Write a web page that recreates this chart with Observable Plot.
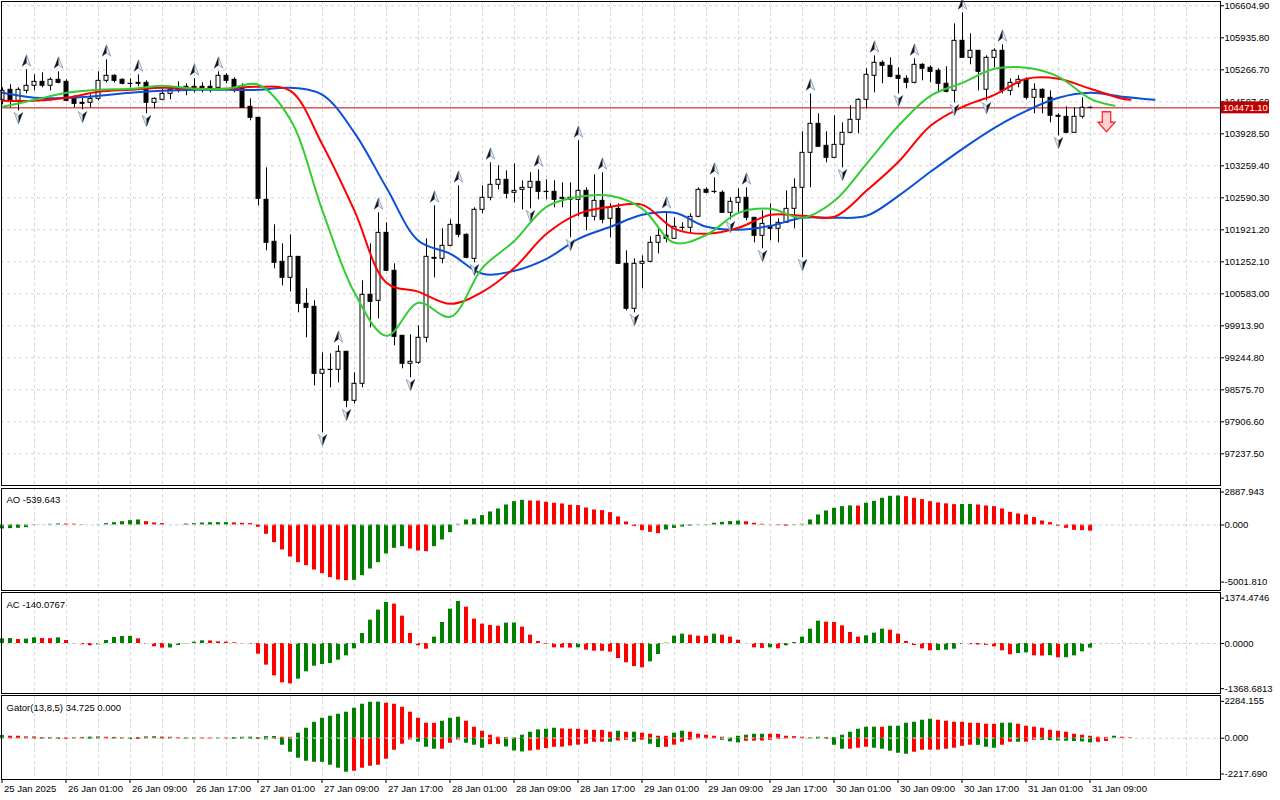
<!DOCTYPE html>
<html><head><meta charset="utf-8">
<script src="https://cdn.jsdelivr.net/npm/d3@7"></script>
<script src="https://cdn.jsdelivr.net/npm/@observablehq/plot@0.6"></script>
<style>
html,body{margin:0;padding:0;background:#fff;}
#chart{width:1280px;height:800px;overflow:hidden;background:#fff}
#chart svg{display:block}
</style></head><body><div id="chart"></div>
<script>
// ---------- DATA (hourly bars, 25 Jan 17:00 .. 31 Jan 09:00) ----------
const opens=[104639,104848,104618,104827,104932,105015,104932,105057,105015,104681,
104576,104576,104660,105036,105141,105057,104974,104994,104994,104576,
104639,104764,104848,104911,104911,104911,104911,104890,105141,105057,
104890,104493,104263,102548,101670,101252,100917,101356,100374,100311,
98910,98994,98994,99370,98345,98701,100562,100436,101858,101064,
99705,99119,99140,99663,101314,101314,101586,102025,101816,101314,
102339,102590,102862,102966,102695,102757,102799,102924,102715,102715,
102590,102548,102548,102736,102193,102527,102151,102360,101210,100269,
101210,101252,101649,101795,101733,101963,101963,102193,102757,102715,
102695,102276,102485,102590,102172,101795,101984,101942,102067,102360,
102799,103531,104137,103677,103426,103698,103949,104221,104639,105141,
105412,105350,105141,105078,104994,105371,105308,105245,104974,104827,
105873,105517,105664,104850,105517,105664,104827,104974,105057,104681,
104848,104681,104305,104284,103949,104284,104472];
const highs=[104890,104953,104890,105266,105162,105204,105099,105224,105057,104723,
104681,104744,105224,105475,105162,105078,105078,105162,105036,104681,
104869,104890,105015,104974,105078,104994,105036,105224,105183,105099,
104974,104660,104263,103217,102025,101628,101816,101360,100687,100436,
99349,99328,99495,99380,98931,100855,101628,102276,102067,101210,
99710,99726,99914,101733,102423,101942,102130,102841,101837,102381,
102841,103322,103259,103154,103301,102945,103113,103175,102966,102945,
102903,102903,103782,102799,103071,103113,102464,102464,101482,101314,
101377,101775,101963,102300,102172,102067,102255,102799,102799,103008,
102736,102590,102778,102799,102180,102318,102464,102151,102736,102987,
103970,104764,104346,103970,104305,104158,104514,104660,105287,105559,
105454,105517,105308,105141,105496,105392,105350,105287,105329,106228,
106458,106019,105670,105559,105706,105790,105078,105141,105099,104974,
104869,104827,104346,104493,104472,104681,104493];
const lows=[104534,104472,104409,104764,104827,104890,104827,104974,104600,104472,
104430,104472,104618,104994,104994,104953,104890,104911,104346,104451,
104618,104639,104785,104723,104785,104785,104785,104869,104974,104785,
104460,104200,102423,101482,101105,100750,100624,100185,99663,98659,
97676,98617,98722,98199,98282,98617,99872,100060,101050,99495,
99015,98826,99110,99558,100917,101210,101565,101754,101314,101231,
102255,102527,102757,102569,102485,102339,102360,102548,102548,102381,
102381,101754,102193,101900,102109,102046,101754,101200,100227,100185,
100687,101231,101419,101649,101720,101900,101858,102172,102674,102674,
102270,102130,102255,102109,101649,101524,101691,101649,102060,101942,
101335,102799,103650,103322,103420,103217,103928,103928,104451,104785,
104974,105099,104764,104869,104974,105036,104994,104785,104785,104576,
105510,105371,104827,104618,105308,104764,104723,104890,104639,104346,
104346,104158,103886,103928,103949,104242,104451];
const closes=[104827,104618,104848,104932,105015,104932,105057,104994,104618,104555,
104555,104660,105036,105141,105036,104974,104970,104974,104576,104660,
104764,104848,104869,104869,104869,104869,104869,105141,105036,104890,
104472,104263,102569,101649,101231,100917,101356,100374,100290,98910,
98994,98990,99370,98345,98701,100562,100415,101858,101064,99684,
99119,99161,99663,101356,101335,101586,102025,101816,101335,102339,
102590,102862,102966,102674,102736,102799,102924,102715,102710,102548,
102569,102590,102736,102193,102527,102130,102381,101210,100269,101210,
101252,101649,101795,101733,101984,101960,102193,102757,102695,102710,
102276,102506,102590,102172,101795,102046,101942,102067,102360,102799,
103531,104137,103656,103426,103698,103949,104221,104639,105162,105412,
105350,105120,105078,104994,105371,105287,105224,104974,104806,105873,
105517,105664,105224,105517,105664,104827,104994,105057,104681,104848,
104681,104305,104284,103949,104284,104472,104471.1];

// Alligator (bar index where read, value)
const jawIdx=[0,4,8,12,16,20,24,28,32,36,40,44,48,52,56,60,64,68,72,76,80,84,88,92,96,100,104,108,112,116,120,124,128,132,136,140,144];
const jawVals=[104785,104681,104681,104723,104785,104827,104848,104848,104848,104890,104744,103949,102799,101691,101419,101001,101064,101314,101733,101984,102234,102276,101984,101921,102004,102172,102172,102214,102632,103134,103614,104054,104409,104681,104785,104702,104639];
const teethIdx=[0,4,8,12,16,20,24,28,32,36,40,44,48,52,56,60,64,68,72,76,80,84,88,92,96,100,104,108,112,116,120,124,128,132,136,140,141];
const teethVals=[104618,104618,104681,104807,104848,104890,104869,104869,104911,104827,103698,102318,100813,100624,100374,100624,101126,101837,102255,102402,102443,101942,101837,101963,102234,102213,102193,102736,103343,104096,104493,104744,105078,105078,104869,104660,104639];
const lipsIdx=[0,4,8,12,16,20,24,28,32,36,40,44,48,52,56,60,64,68,72,76,80,84,88,92,96,100,104,108,112,116,120,124,128,132,136,139];
const lipsVals=[104493,104639,104785,104848,104869,104932,104869,104869,104953,104221,102318,100604,99705,100394,100102,101126,101691,102402,102611,102632,102360,101649,101816,102276,102360,102172,102527,103301,104096,104723,104994,105287,105308,105120,104660,104514];

// Fractals (bar indices)
const upFractals=[3,7,13,17,24,27,42,47,54,57,61,67,72,75,83,89,93,101,109,114,120,125];
const downFractals=[2,10,18,40,43,51,59,66,71,79,91,95,100,105,112,119,123,132];
// Sell signal arrow
const signalIdx=[138];
const signalPrice=[104180];

// Price axis
const priceTicks=[106604.90,105935.80,105266.70,104597.60,103928.50,103259.40,102590.30,101921.20,101252.10,100583.00,99913.90,99244.80,98575.70,97906.60,97237.50];

// Awesome Oscillator
const aoVals=[-350,-320,-290,-234,-30,-10,58,88,80,70,
30,0,20,117,204,292,380,438,292,175,
117,10,-10,80,110,170,200,205,210,180,
150,120,-200,-818,-1548,-2190,-2803,-3300,-3562,-3942,
-4263,-4614,-4818,-4876,-4850,-4438,-3854,-3300,-2540,-2044,
-1898,-2102,-2278,-2336,-1898,-1314,-672,58,438,526,
818,1139,1402,1752,2044,2161,2102,2090,1986,1898,
1840,1723,1694,1489,1314,1256,1080,700,263,-146,
-496,-642,-760,-440,-300,-180,-90,-30,30,150,
230,300,340,280,150,60,20,-60,-100,-50,
60,440,880,1230,1460,1610,1670,1660,1900,2070,
2340,2510,2540,2480,2340,2220,2040,1930,1850,1780,
1790,1800,1752,1664,1606,1400,1110,963,876,642,
350,204,-117,-292,-470,-500,-539.643];
const aoTicks=[2887.943,0,-5001.810];
const aoTickLabels=["2887.943","0.000","-5001.810"];

// Accelerator Oscillator
const acVals=[141,150,120,131,172,150,145,172,90,-10,
-40,-70,-40,90,182,212,215,141,-20,-101,
-141,-135,-60,-10,40,81,78,50,40,20,
-10,-20,-323,-656,-980,-1192,-1222,-1080,-858,-687,
-636,-606,-505,-374,-162,303,707,1010,1242,1192,
828,303,-70,-172,192,636,1040,1273,1100,737,
586,545,525,616,620,495,252,60,-20,-131,
-135,-140,-130,-202,-232,-235,-262,-454,-585,-700,
-737,-555,-333,10,222,283,252,222,220,283,
252,192,100,0,-131,-150,-131,-160,-70,30,
192,434,677,646,636,535,333,192,232,313,
434,404,283,60,-60,-162,-222,-215,-202,-172,
-30,-35,-45,-55,-101,-222,-343,-303,-283,-374,
-380,-370,-434,-430,-374,-252,-140.0767];
const acTicks=[1374.4746,0,-1368.6813];
const acTickLabels=["1374.4746","0.0000","-1368.6813"];

// Gator oscillator
const gatorUpVals=[165,124,124,83,80,41,40,30,20,30,
50,70,80,60,50,30,20,40,80,90,
70,60,30,20,20,18,10,12,15,40,
60,65,40,100,105,60,58,310,620,990,
1240,1364,1488,1612,1860,2108,2232,2240,2170,2108,
1922,1612,1240,930,925,1054,1240,1302,1054,682,
434,186,62,50,20,186,372,517,558,620,
579,558,555,496,490,485,372,434,370,375,
310,248,124,120,310,434,372,248,186,124,
62,10,124,186,248,250,245,240,124,100,
62,20,62,40,45,186,372,558,682,685,
680,744,745,930,992,1116,1178,1116,1054,992,
990,930,925,868,865,930,935,868,744,682,
620,496,434,372,248,186,124,62,50,124,
62,34.725];
const gatorDownVals=[-40,-40,-30,-40,-45,-50,-60,-70,-60,-50,
-40,-60,-50,-40,-50,-60,-80,-70,-40,-30,
-40,-50,-40,-50,-60,-50,-40,-50,-40,-60,
-62,-64,-66,-100,-60,-434,-868,-1240,-1426,-1488,
-1495,-1674,-1860,-2108,-2046,-1860,-1736,-1674,-1302,-744,
-372,-103,-248,-558,-682,-680,-310,-103,-310,-434,
-620,-400,-380,-540,-790,-850,-790,-740,-640,-560,
-555,-480,-430,-370,-250,-248,-250,-170,-124,-248,
-124,-372,-580,-560,-430,-248,-124,-40,-38,-36,
-124,-227,-290,-186,-180,-175,-124,-62,-40,-38,
-20,-40,-60,-62,-434,-682,-680,-620,-558,-620,
-682,-806,-930,-992,-868,-744,-740,-735,-682,-620,
-496,-434,-440,-558,-620,-434,-248,-250,-245,-124,
-130,-150,-170,-186,-200,-230,-290,-250,-200,-5];
const gatorTicks=[2284.155,0,-2217.690];
const gatorTickLabels=["2284.155","0.000","-2217.690"];

const panelTitles=["AO -539.643","AC -140.0767","Gator(13,8,5) 34.725 0.000"];

// Time axis
const timeLabelIdx=[0,8,16,24,32,40,48,56,64,72,80,88,96,104,112,120,128,136];
const timeLabels=["25 Jan 2025","26 Jan 01:00","26 Jan 09:00","26 Jan 17:00","27 Jan 01:00","27 Jan 09:00","27 Jan 17:00","28 Jan 01:00","28 Jan 09:00","28 Jan 17:00","29 Jan 01:00","29 Jan 09:00","29 Jan 17:00","30 Jan 01:00","30 Jan 09:00","30 Jan 17:00","31 Jan 01:00","31 Jan 09:00"];
const gridIdx=[4,8,12,16,20,24,28,32,36,40,44,48,52,56,60,64,68,72,76,80,84,88,92,96,100,104,108,112,116,120,124,128,132,136,140,144,148];

// ---------- STYLE ----------
const FONT="'Liberation Sans', Arial, sans-serif";
const FS=9.5;
const GREEN="#008000", RED="#ff0000", GRID="#d4d4d4";
const W=1280, ML=1, MR=60;
const xDomain=[-0.125,152.25];
const style={fontFamily:FONT,fontSize:FS+"px",color:"#000",background:"#fff",overflow:"visible"};
const dashedGrid={stroke:GRID,strokeDasharray:"3,3"};

// ---------- SYMBOLS ----------
const rOf=s=>Math.sqrt(s/Math.PI);
const upFull={draw(c,s){const r=rOf(s);c.moveTo(0,-r);c.lineTo(0.72*r,0.9*r);c.lineTo(0,0.35*r);c.lineTo(-0.72*r,0.9*r);c.closePath();}};
const upHalf={draw(c,s){const r=rOf(s);c.moveTo(0,-r);c.lineTo(0,0.35*r);c.lineTo(-0.72*r,0.9*r);c.closePath();}};
const dnFull={draw(c,s){const r=rOf(s);c.moveTo(0,r);c.lineTo(0.72*r,-0.9*r);c.lineTo(0,-0.35*r);c.lineTo(-0.72*r,-0.9*r);c.closePath();}};
const dnHalf={draw(c,s){const r=rOf(s);c.moveTo(0,r);c.lineTo(0,-0.35*r);c.lineTo(0.72*r,-0.9*r);c.closePath();}};
const blockDown={draw(c,s){const r=rOf(s);c.moveTo(-0.42*r,-r);c.lineTo(0.42*r,-r);c.lineTo(0.42*r,0.05*r);c.lineTo(0.85*r,0.05*r);c.lineTo(0,r);c.lineTo(-0.85*r,0.05*r);c.lineTo(-0.42*r,0.05*r);c.closePath();}};

// ---------- BUILD ----------
const candles=closes.map((c,i)=>({i,o:opens[i],h:highs[i],l:lows[i],c}));
const lastClose=closes[closes.length-1];
const series=(idx,vals)=>idx.map((i,k)=>({i,v:vals[k]}));
const jaw=series(jawIdx,jawVals), teeth=series(teethIdx,teethVals), lips=series(lipsIdx,lipsVals);
const upF=upFractals.map(i=>({i,v:highs[i]}));
const dnF=downFractals.map(i=>({i,v:lows[i]}));
const sig=signalIdx.map((i,k)=>({i,v:signalPrice[k]}));

const hist=(vals,cmp)=>vals.map((v,i)=>({i,v,col:(i===0||cmp(v,vals[i-1]))?GREEN:RED}));
const aoData=hist(aoVals,(a,b)=>a>b);
const acData=hist(acVals,(a,b)=>a>b);
const gUp=hist(gatorUpVals,(a,b)=>a>b);
const gDn=hist(gatorDownVals,(a,b)=>Math.abs(a)>Math.abs(b));

const root=document.getElementById("chart");

const mainPlot=Plot.plot({
  width:W,height:487,marginTop:1,marginBottom:2,marginLeft:ML,marginRight:MR,
  style,
  x:{domain:xDomain,axis:null},
  y:{domain:[96574.8,106694.8],axis:null},
  color:{type:"identity"},
  marks:[
    Plot.ruleY(priceTicks,dashedGrid),
    Plot.ruleX(gridIdx,dashedGrid),
    Plot.ruleY([lastClose],{stroke:"#c00000",strokeWidth:1}),
    Plot.ruleX(candles,{x:"i",y1:"l",y2:"h",stroke:"#000",strokeWidth:1}),
    Plot.rect(candles,{x1:d=>d.i-0.25,x2:d=>d.i+0.25,y1:"o",y2:"c",fill:d=>d.c>=d.o?"#ffffff":"#000000",stroke:"#000",strokeWidth:1}),
    Plot.line(jaw,{x:"i",y:"v",stroke:"#0a50d8",strokeWidth:2,curve:"catmull-rom"}),
    Plot.line(teeth,{x:"i",y:"v",stroke:"#ff0000",strokeWidth:2,curve:"catmull-rom"}),
    Plot.line(lips,{x:"i",y:"v",stroke:"#33cc33",strokeWidth:2,curve:"catmull-rom"}),
    Plot.dot(upF,{x:"i",y:"v",dy:-9,r:6,symbol:upFull,fill:"#e4ebf3",stroke:"#7d97bd",strokeWidth:0.8}),
    Plot.dot(upF,{x:"i",y:"v",dy:-9,r:6,symbol:upHalf,fill:"#151515",stroke:"none"}),
    Plot.dot(dnF,{x:"i",y:"v",dy:7,r:6,symbol:dnFull,fill:"#e4ebf3",stroke:"#7d97bd",strokeWidth:0.8}),
    Plot.dot(dnF,{x:"i",y:"v",dy:7,r:6,symbol:dnHalf,fill:"#151515",stroke:"none"}),
    Plot.dot(sig,{x:"i",y:"v",r:10,symbol:blockDown,fill:"#ffd2d2",stroke:"#ff2a2a",strokeWidth:1.3}),
    Plot.frame({stroke:"#000"}),
    Plot.ruleY(priceTicks,{x1:xDomain[1],x2:xDomain[1]+0.5,stroke:"#000"}),
    Plot.text(priceTicks,{y:d=>d,frameAnchor:"right",dx:4,textAnchor:"start",text:d=>d.toFixed(2),fill:"#000"})
  ]
});
root.appendChild(mainPlot);
// current price tag
{
  const svg=d3.select(mainPlot);
  const yy=mainPlot.scale("y").apply(lastClose);
  const xx=mainPlot.scale("x").apply(xDomain[1]);
  svg.append("rect").attr("x",xx+1).attr("y",yy-6).attr("width",48).attr("height",12).attr("fill","#c00000");
  svg.append("text").attr("x",xx+3).attr("y",yy+3.5).attr("text-anchor","start").attr("fill","#fff").attr("font-family",FONT).attr("font-size",FS).text(lastClose.toFixed(2));
}

function histPanel({height,marginBottom,range,domain,bars,title,titleDy,ticks,tickLabels}){
  const marks=[
    Plot.ruleX(gridIdx,dashedGrid)
  ];
  for(const b of bars){
    marks.push(Plot.rect(b,{x1:d=>d.i-0.25,x2:d=>d.i+0.25,y1:0,y2:"v",fill:"col"}));
  }
  marks.push(
    Plot.ruleY([0],{stroke:"#d0d0d0",strokeDasharray:"3,3"}),
    Plot.frame({stroke:"#000"}),
    Plot.text([title],{frameAnchor:"top-left",dx:5,dy:titleDy,textAnchor:"start",text:d=>d,fill:"#000"}),
    Plot.ruleY(ticks,{x1:xDomain[1],x2:xDomain[1]+0.5,stroke:"#000"}),
    Plot.text(ticks,{y:d=>d,frameAnchor:"right",dx:4,textAnchor:"start",text:(d,k)=>tickLabels[k],fill:"#000"})
  );
  return Plot.plot({
    width:W,height,marginTop:1,marginBottom,marginLeft:ML,marginRight:MR,style,
    x:{domain:xDomain,axis:null},
    y:{domain,range,axis:null},
    color:{type:"identity"},
    marks
  });
}

const aoPlot=histPanel({height:104,marginBottom:1,domain:[-5001.81,2887.943],range:[94.6,4.5],bars:[aoData],title:panelTitles[0],titleDy:8,ticks:aoTicks,tickLabels:aoTickLabels});
root.appendChild(aoPlot);
const acPlot=histPanel({height:103,marginBottom:1,domain:[-1368.6813,1374.4746],range:[97.2,6.6],bars:[acData],title:panelTitles[1],titleDy:9,ticks:acTicks,tickLabels:acTickLabels});
root.appendChild(acPlot);
const gPlot=histPanel({height:106,marginBottom:21,domain:[-2217.69,2284.155],range:[79.5,6.9],bars:[gUp,gDn],title:panelTitles[2],titleDy:9,ticks:gatorTicks,tickLabels:gatorTickLabels});
root.appendChild(gPlot);
// time axis labels + ticks
{
  const svg=d3.select(gPlot);
  const xs=gPlot.scale("x");
  const bottom=85;
  timeLabelIdx.forEach((i,k)=>{
    const x=xs.apply(i);
    svg.append("line").attr("x1",x).attr("x2",x).attr("y1",bottom).attr("y2",bottom+4).attr("stroke","#000");
    svg.append("text").attr("x",x+2).attr("y",bottom+13).attr("text-anchor","start").attr("fill","#000").attr("font-family",FONT).attr("font-size",FS).text(timeLabels[k]);
  });
}
</script>
</body></html>
